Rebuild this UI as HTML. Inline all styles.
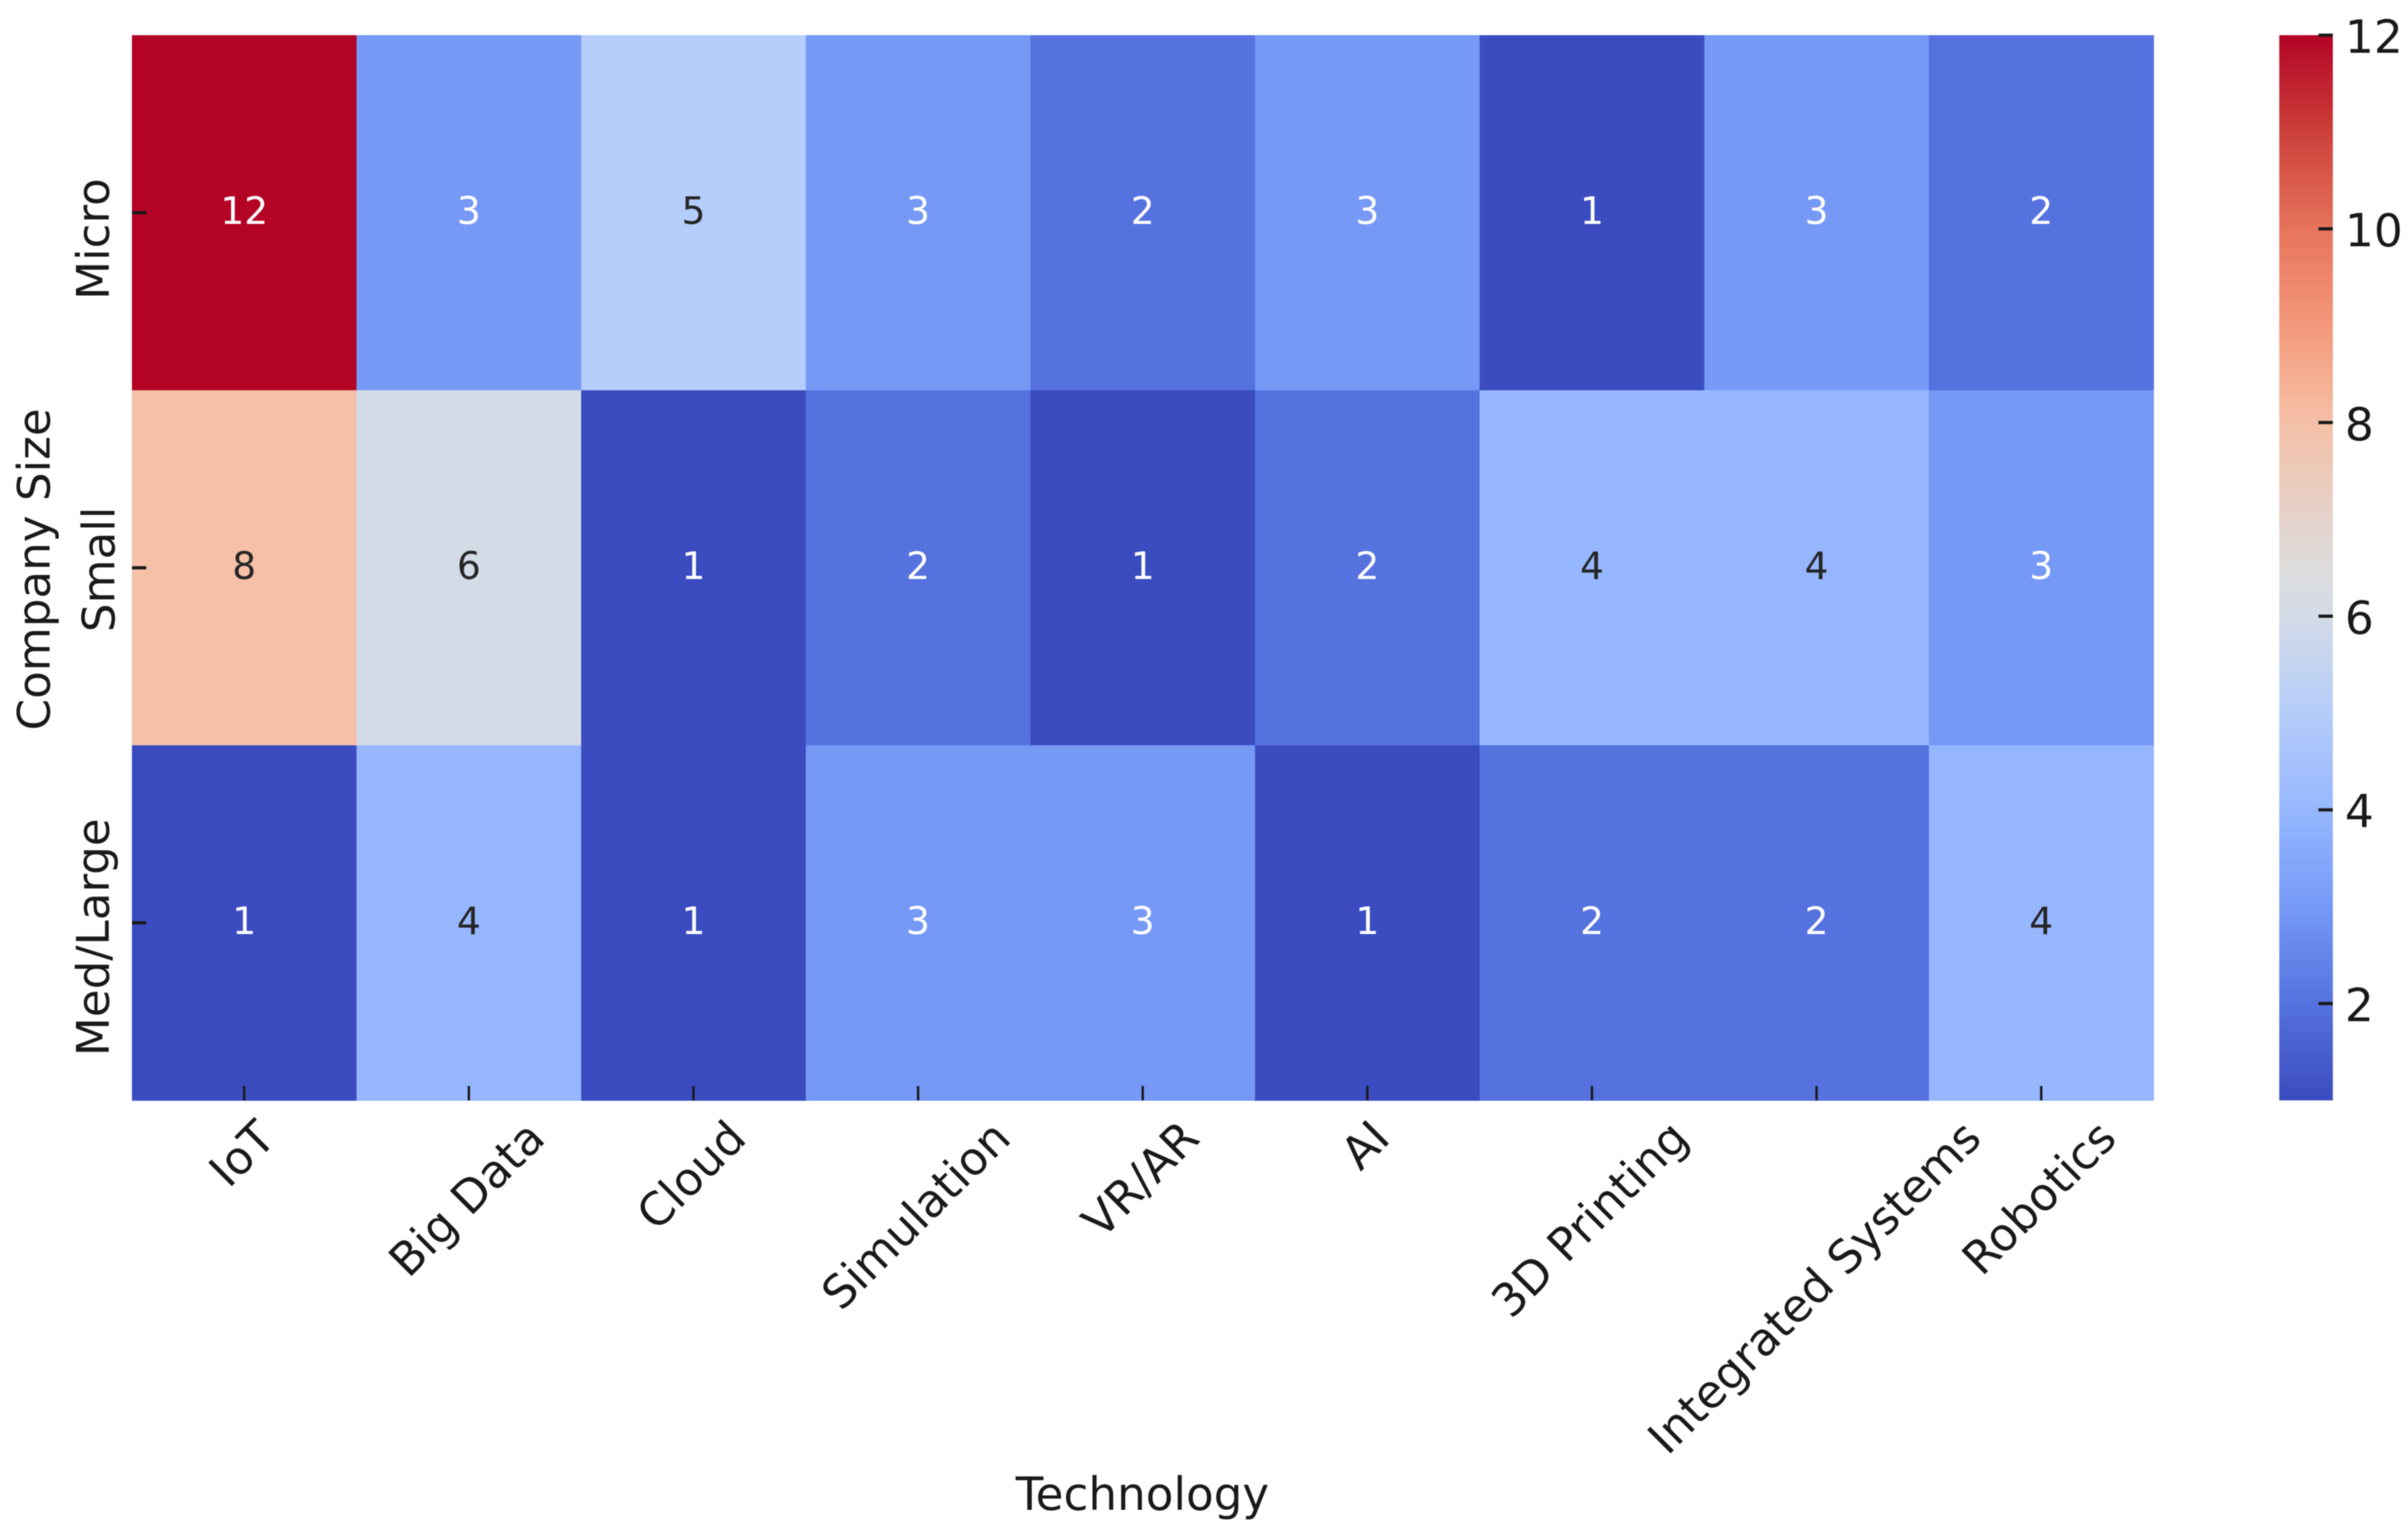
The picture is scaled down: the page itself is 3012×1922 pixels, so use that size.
<!DOCTYPE html>
<html lang="en">
<head>
<meta charset="utf-8">
<title>Technology adoption by company size heatmap</title>
<style>
  html, body { margin: 0; padding: 0; background: #ffffff; }
  body { width: 3012px; height: 1922px; overflow: hidden; }
  #chart { display: block; filter: blur(0.6px); }
  text { font-family: "DejaVu Sans", "Liberation Sans", sans-serif; fill: #1a1a1a; }
</style>
</head>
<body>
<svg id="chart" xmlns="http://www.w3.org/2000/svg" width="3012" height="1922" viewBox="0 0 3012 1922">
  <defs>
    <linearGradient id="colorbar-gradient" x1="0" y1="1" x2="0" y2="0"></linearGradient>
  </defs>
  <g id="cells"></g>
  <g id="annotations"></g>
  <g id="x-axis"></g>
  <g id="y-axis"></g>
  <text x="1429" y="1888" text-anchor="middle" font-size="56.6">Technology</text>
  <text transform="translate(62 712) rotate(-90)" text-anchor="middle" font-size="56.5">Company Size</text>
  <rect id="colorbar-rect" x="2851" y="44" width="67" height="1332" fill="url(#colorbar-gradient)"></rect>
  <g id="colorbar-axis"></g>
</svg>
<script>
const technologies = ["IoT", "Big Data", "Cloud", "Simulation", "VR/AR", "AI", "3D Printing", "Integrated Systems", "Robotics"];
const companySizes = ["Micro", "Small", "Med/Large"];
const microValues = [12, 3, 5, 3, 2, 3, 1, 3, 2];
const smallValues = [8, 6, 1, 2, 1, 2, 4, 4, 3];
const medLargeValues = [1, 4, 1, 3, 3, 1, 2, 2, 4];
const colorbarTicks = [2, 4, 6, 8, 10, 12];

const rows = [microValues, smallValues, medLargeValues];
const NS = "http://www.w3.org/2000/svg";
const plot = { left: 165, right: 2693.7, top: 44, bottom: 1376 };
const bar = { left: 2851, right: 2918, top: 44, bottom: 1376 };
const allValues = rows.flat();
const vMin = Math.min.apply(null, allValues);
const vMax = Math.max.apply(null, allValues);
const cellW = (plot.right - plot.left) / technologies.length;
const cellH = (plot.bottom - plot.top) / companySizes.length;

function xScale(i) { return plot.left + i * cellW; }
function yScale(i) { return plot.top + i * cellH; }
function barScale(v) { return bar.bottom - (v - vMin) / (vMax - vMin) * (bar.bottom - bar.top); }

// coolwarm colormap lookup
const cmapStops = [
  [0, 59, 76, 192], [0.0909, 85, 114, 223], [0.1818, 118, 153, 246], [0.2727, 150, 183, 255],
  [0.3636, 181, 205, 250], [0.4545, 211, 219, 231], [0.5, 221, 220, 220], [0.6364, 245, 192, 167],
  [0.7273, 244, 152, 122], [0.8182, 231, 116, 91], [0.9091, 204, 64, 58], [1, 180, 4, 38]
];
function coolwarm(t) {
  t = Math.max(0, Math.min(1, t));
  for (let i = 1; i < cmapStops.length; i++) {
    if (t <= cmapStops[i][0]) {
      const a = cmapStops[i - 1], b = cmapStops[i];
      const f = (t - a[0]) / (b[0] - a[0]);
      return [1, 2, 3].map(k => Math.round(a[k] + (b[k] - a[k]) * f));
    }
  }
  return [180, 4, 38];
}
function css(rgb) { return "rgb(" + rgb.join(",") + ")"; }
function make(tag, attrs) {
  const el = document.createElementNS(NS, tag);
  for (const k in attrs) el.setAttribute(k, attrs[k]);
  return el;
}

const cellsG = document.getElementById("cells");
const annG = document.getElementById("annotations");
const xG = document.getElementById("x-axis");
const yG = document.getElementById("y-axis");
const cbG = document.getElementById("colorbar-axis");

rows.forEach(function (row, r) {
  row.forEach(function (v, c) {
    const rgb = coolwarm((v - vMin) / (vMax - vMin));
    const cell = make("rect", { x: xScale(c), y: yScale(r), width: cellW + 0.5, height: cellH + 0.5, fill: css(rgb) });
    
    
    cellsG.appendChild(cell);

    const lum = 0.2126 * rgb[0] + 0.7152 * rgb[1] + 0.0722 * rgb[2];
    const label = make("text", { x: xScale(c) + cellW / 2, y: yScale(r) + cellH / 2 + 14, "text-anchor": "middle", "font-size": 47 });
    label.style.fill = lum > 165 ? "#262626" : "#ffffff";
    label.textContent = v;
    
    
    annG.appendChild(label);
  });
});

technologies.forEach(function (name, i) {
  const cx = xScale(i) + cellW / 2;
  const tick = make("rect", { x: cx - 1.5, y: plot.bottom - 18, width: 3, height: 18, fill: "#1a1a1a" });
  
  
  xG.appendChild(tick);

  const label = make("text", { "text-anchor": "middle", "font-size": 57 });
  label.textContent = name;
  
  
  xG.appendChild(label);
  const half = label.getComputedTextLength() * Math.SQRT1_2 / 2;
  const cy = 1397 + half + 15;
  label.setAttribute("transform", "translate(" + (cx - 3) + " " + cy + ") rotate(-45) translate(0 20)");
});

const yLabelShift = { "Micro": 33, "Small": 2, "Med/Large": 18 };
const yLabelBase = { "Micro": 136, "Small": 143, "Med/Large": 136 };
companySizes.forEach(function (name, i) {
  const cy = yScale(i) + cellH / 2;
  const tick = make("rect", { x: plot.left, y: cy - 2, width: 18, height: 4, fill: "#1a1a1a" });
  
  
  yG.appendChild(tick);

  const label = make("text", {
    "text-anchor": "middle", "font-size": 56.5,
    transform: "translate(" + yLabelBase[name] + " " + (cy + yLabelShift[name]) + ") rotate(-90)"
  });
  label.textContent = name;
  
  
  yG.appendChild(label);
});

const gradient = document.getElementById("colorbar-gradient");
for (let s = 0; s <= 64; s++) {
  const stop = make("stop", { offset: s / 64, "stop-color": css(coolwarm(s / 64)) });
  gradient.appendChild(stop);
}

colorbarTicks.forEach(function (v) {
  const y = barScale(v);
  const tick = make("rect", { x: bar.right - 18, y: y - 2, width: 18, height: 4, fill: "#1a1a1a" });
  
  
  cbG.appendChild(tick);

  const label = make("text", { x: 2933, y: y + 22, "font-size": 57 });
  label.textContent = v;
  
  
  cbG.appendChild(label);
});
</script>
</body>
</html>
